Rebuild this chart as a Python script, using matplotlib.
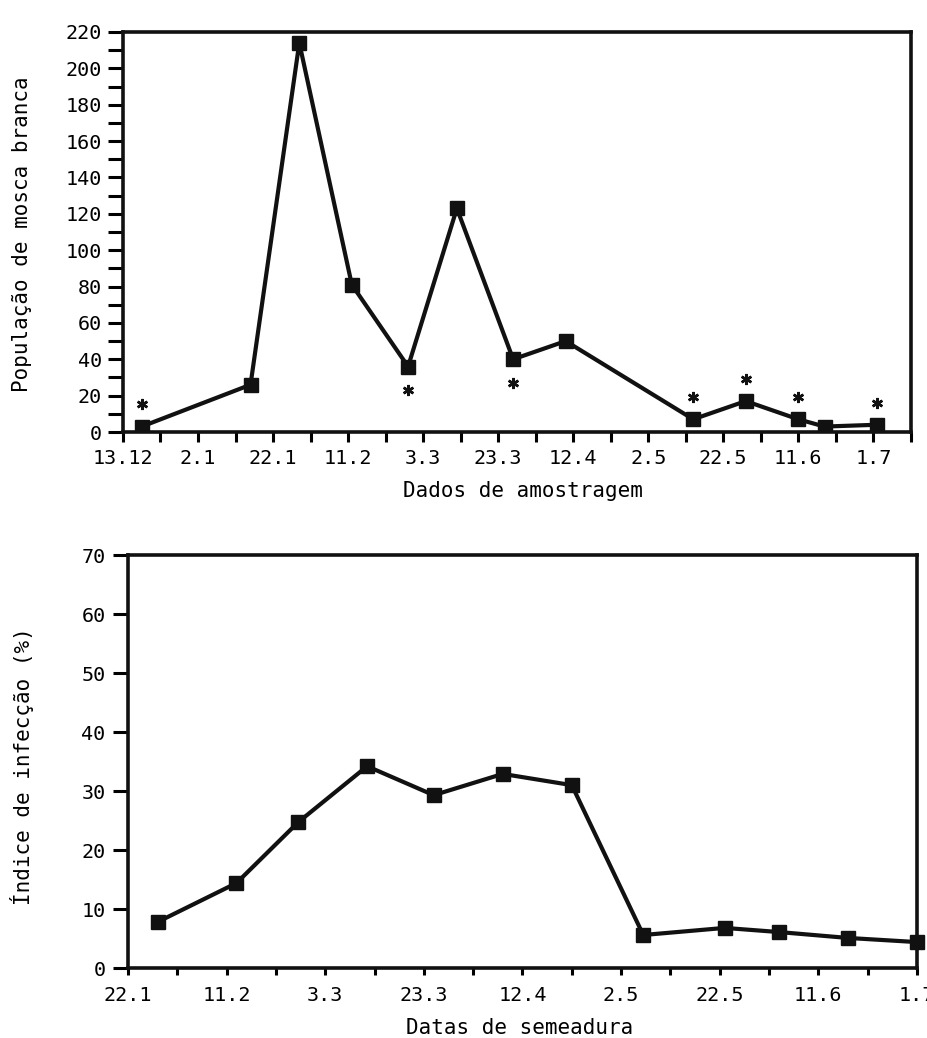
import matplotlib
matplotlib.use("Agg")
import matplotlib.pyplot as plt
from matplotlib.ticker import MultipleLocator, FixedLocator
from matplotlib.transforms import offset_copy

# top panel: sampling dates (days after 13.12), whitefly population
amostra_dias = [5, 34, 47, 61, 76, 89, 104, 118, 152, 166, 180, 187, 201]
populacao = [3, 26, 214, 81, 36, 123, 40, 50, 7, 17, 7, 3, 4]
asterisco_acima = [0, 8, 9, 10, 12]
asterisco_abaixo = [4, 6]
amostra_labels = ["13.12", "2.1", "22.1", "11.2", "3.3", "23.3", "12.4",
                  "2.5", "22.5", "11.6", "1.7"]

# bottom panel: sowing dates (days after 22.1), infection index (%)
semeadura_dias = [6, 22, 34.5, 48.5, 62, 76, 90, 104.5, 121, 132, 146, 160]
infeccao = [7.8, 14.4, 24.7, 34.2, 29.3, 32.9, 31.0, 5.6, 6.8, 6.1, 5.1, 4.4]
semeadura_labels = ["22.1", "11.2", "3.3", "23.3", "12.4", "2.5", "22.5",
                    "11.6", "1.7"]

plt.rcParams.update({
    "font.family": "DejaVu Sans Mono",
    "font.size": 14.5,
    "axes.labelsize": 15,
})

fig = plt.figure(figsize=(9.28, 10.38), dpi=100)
ax1 = fig.add_axes([0.1325, 0.5838, 0.849, 0.3854])
ax2 = fig.add_axes([0.1379, 0.0674, 0.8502, 0.3979])

for ax in (ax1, ax2):
    for s in ax.spines.values():
        s.set_linewidth(2.6)
        s.set_color("#111111")

# --- top ---
ax1.plot(amostra_dias, populacao, color="#111111", lw=3, marker="s",
         ms=9.5, solid_joinstyle="round", zorder=3)
up = offset_copy(ax1.transData, fig=fig, y=16, units="points")
down = offset_copy(ax1.transData, fig=fig, y=-17, units="points")
ax1.plot([amostra_dias[i] for i in asterisco_acima],
         [populacao[i] for i in asterisco_acima], ls="none",
         marker=(6, 2, 0), ms=8, mew=1.8, color="#111111", transform=up)
ax1.plot([amostra_dias[i] for i in asterisco_abaixo],
         [populacao[i] for i in asterisco_abaixo], ls="none",
         marker=(6, 2, 0), ms=8, mew=1.8, color="#111111", transform=down)

ax1.set_xlim(0, 210)
ax1.set_ylim(0, 220)
ax1.xaxis.set_major_locator(FixedLocator(range(0, 201, 20)))
ax1.set_xticklabels(amostra_labels)
ax1.xaxis.set_minor_locator(MultipleLocator(10))
ax1.yaxis.set_major_locator(MultipleLocator(20))
ax1.yaxis.set_minor_locator(MultipleLocator(10))
ax1.tick_params(axis="x", which="both", direction="out", length=7, width=2.2, pad=5)
ax1.tick_params(axis="y", which="both", direction="out", length=11, width=2.2, pad=4)
ax1.set_xlabel("Dados de amostragem")
ax1.xaxis.set_label_coords(0.508, -0.1475)
ax1.xaxis.label.set_va("center")
ax1.set_ylabel("População de mosca branca")
ax1.yaxis.set_label_coords(-0.128, 0.495)
ax1.yaxis.label.set_va("center")

# --- bottom ---
ax2.plot(semeadura_dias, infeccao, color="#111111", lw=3, marker="s",
         ms=9.5, solid_joinstyle="round", zorder=3, clip_on=False)
ax2.set_xlim(0, 160)
ax2.set_ylim(0, 70)
ax2.xaxis.set_major_locator(FixedLocator(range(0, 161, 20)))
ax2.set_xticklabels(semeadura_labels)
ax2.xaxis.set_minor_locator(MultipleLocator(10))
ax2.yaxis.set_major_locator(MultipleLocator(10))
ax2.tick_params(axis="x", which="both", direction="out", length=5, width=2.2, pad=8)
ax2.tick_params(axis="y", direction="out", length=11, width=2.2, pad=5)
ax2.set_xlabel("Datas de semeadura")
ax2.xaxis.set_label_coords(0.497, -0.145)
ax2.xaxis.label.set_va("center")
ax2.set_ylabel("Índice de infecção (%)")
ax2.yaxis.set_label_coords(-0.134, 0.489)
ax2.yaxis.label.set_va("center")

fig.savefig("out.png", dpi=100, facecolor="white")
